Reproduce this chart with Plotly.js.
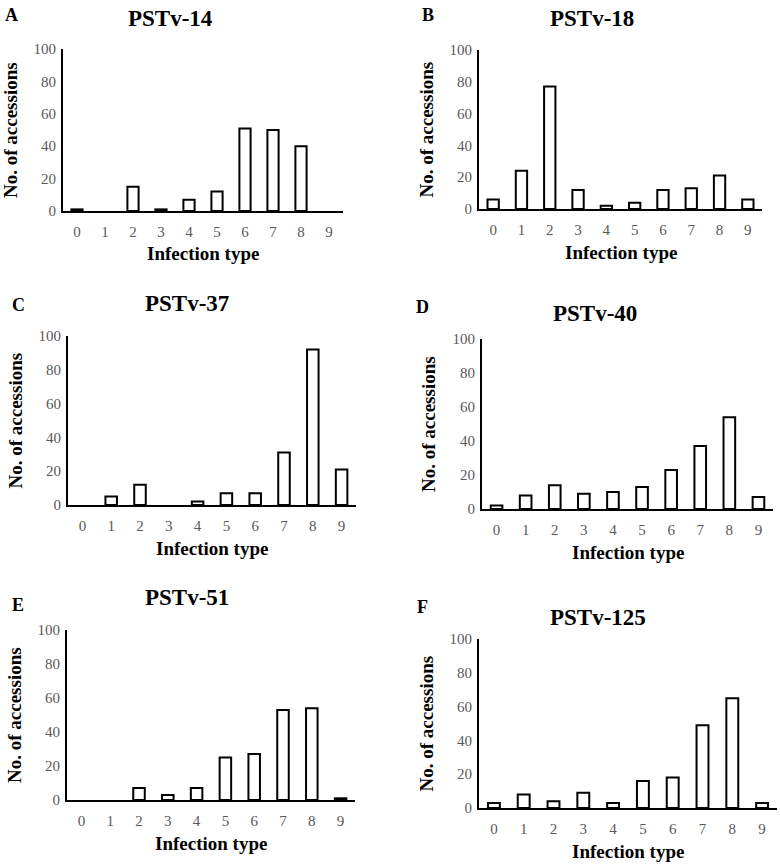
<!DOCTYPE html>
<html>
<head>
<meta charset="utf-8">
<script src="https://cdn.plot.ly/plotly-3.0.1.min.js"></script>
<style>html,body{margin:0;padding:0;background:#fff;}#chart{width:780px;height:864px;}</style>
</head>
<body>
<div id="chart"></div>
<script>
// ---- Data ----
const infectionTypes = ["0","1","2","3","4","5","6","7","8","9"];
const panelLabels = ["A","B","C","D","E","F"];
const panelTitles = ["PSTv-14","PSTv-18","PSTv-37","PSTv-40","PSTv-51","PSTv-125"];
const pstv14  = [1, 0, 15, 1, 7, 12, 51, 50, 40, 0];
const pstv18  = [6, 24, 77, 12, 2, 4, 12, 13, 21, 6];
const pstv37  = [0, 5, 12, 0, 2, 7, 7, 31, 92, 21];
const pstv40  = [2, 8, 14, 9, 10, 13, 23, 37, 54, 7];
const pstv51  = [0, 0, 7, 3, 7, 25, 27, 53, 54, 1];
const pstv125 = [3, 8, 4, 9, 3, 16, 18, 49, 65, 3];
const yTickVals = [0, 20, 40, 60, 80, 100];
const xAxisTitle = "Infection type";
const yAxisTitle = "No. of accessions";

const series = [pstv14, pstv18, pstv37, pstv40, pstv51, pstv125];

// ---- Layout geometry (pixels) ----
const W = 780, H = 864;
const boxes = [
  {x0: 63,  x1: 343, yTop: 49,  yBot: 211, lab: [11, 15],  tit: [170, 18]},
  {x0: 479, x1: 762, yTop: 50,  yBot: 209, lab: [428, 15], tit: [592, 18]},
  {x0: 68,  x1: 356, yTop: 336, yBot: 505, lab: [18, 305], tit: [187, 303]},
  {x0: 482, x1: 773, yTop: 339, yBot: 509, lab: [423, 307], tit: [595, 313]},
  {x0: 67,  x1: 355, yTop: 630, yBot: 800, lab: [18, 605], tit: [187, 597]},
  {x0: 479, x1: 777, yTop: 639, yBot: 808, lab: [422, 607], tit: [598, 617]}
];
const px = x => x / W;
const py = y => 1 - y / H;

const serif = "Liberation Serif";
const traces = [];
const layout = {
  width: W, height: H,
  margin: {l: 0, r: 0, t: 0, b: 0},
  paper_bgcolor: "#ffffff",
  plot_bgcolor: "#ffffff",
  showlegend: false,
  bargap: 0.6,
  font: {family: serif},
  annotations: []
};

boxes.forEach((b, i) => {
  const n = i + 1;
  const xa = n === 1 ? "xaxis" : "xaxis" + n;
  const ya = n === 1 ? "yaxis" : "yaxis" + n;
  traces.push({
    type: "bar",
    x: infectionTypes,
    // zero counts draw no bar outline, as in the original figure
    y: series[i].map(v => (v === 0 ? null : v)),
    xaxis: "x" + (n === 1 ? "" : n),
    yaxis: "y" + (n === 1 ? "" : n),
    marker: {color: "#ffffff", line: {color: "#000000", width: 2}},
    hoverinfo: "x+y"
  });
  layout[xa] = {
    domain: [px(b.x0), px(b.x1)],
    anchor: "y" + (n === 1 ? "" : n),
    type: "category",
    range: [-0.5, 9.5],
    showline: true, linecolor: "#000000", linewidth: 2,
    showgrid: false, zeroline: false, ticks: "",
    ticklabelstandoff: 6,
    tickfont: {family: serif, size: 15, color: "#595959"},
    fixedrange: true
  };
  layout[ya] = {
    domain: [py(b.yBot), py(b.yTop)],
    anchor: "x" + (n === 1 ? "" : n),
    range: [0, 100],
    tickvals: yTickVals,
    showline: true, linecolor: "#000000", linewidth: 2,
    showgrid: false, zeroline: false, ticks: "",
    ticklabelstandoff: 2,
    tickfont: {family: serif, size: 15, color: "#595959"},
    fixedrange: true
  };
  layout.annotations.push({
    text: "<b>" + panelLabels[i] + "</b>", xref: "paper", yref: "paper",
    x: px(b.lab[0]), y: py(b.lab[1]), xanchor: "center", yanchor: "middle",
    showarrow: false, font: {family: serif, size: 18, color: "#000000"}
  });
  layout.annotations.push({
    text: "<b>" + panelTitles[i] + "</b>", xref: "paper", yref: "paper",
    x: px(b.tit[0]), y: py(b.tit[1]), xanchor: "center", yanchor: "middle",
    showarrow: false, font: {family: serif, size: 23, color: "#000000"}
  });
  layout.annotations.push({
    text: "<b>" + xAxisTitle + "</b>", xref: "paper", yref: "paper",
    x: px((b.x0 + b.x1) / 2), y: py(b.yBot + 43), xanchor: "center", yanchor: "middle",
    showarrow: false, font: {family: serif, size: 19, color: "#000000"}
  });
  layout.annotations.push({
    text: "<b>" + yAxisTitle + "</b>", xref: "paper", yref: "paper",
    x: px(b.x0 - 53), y: py((b.yTop + b.yBot) / 2), xanchor: "center", yanchor: "middle",
    textangle: -90,
    showarrow: false, font: {family: serif, size: 19, color: "#000000"}
  });
});

Plotly.newPlot("chart", traces, layout, {displayModeBar: false, staticPlot: true});
</script>
</body>
</html>
